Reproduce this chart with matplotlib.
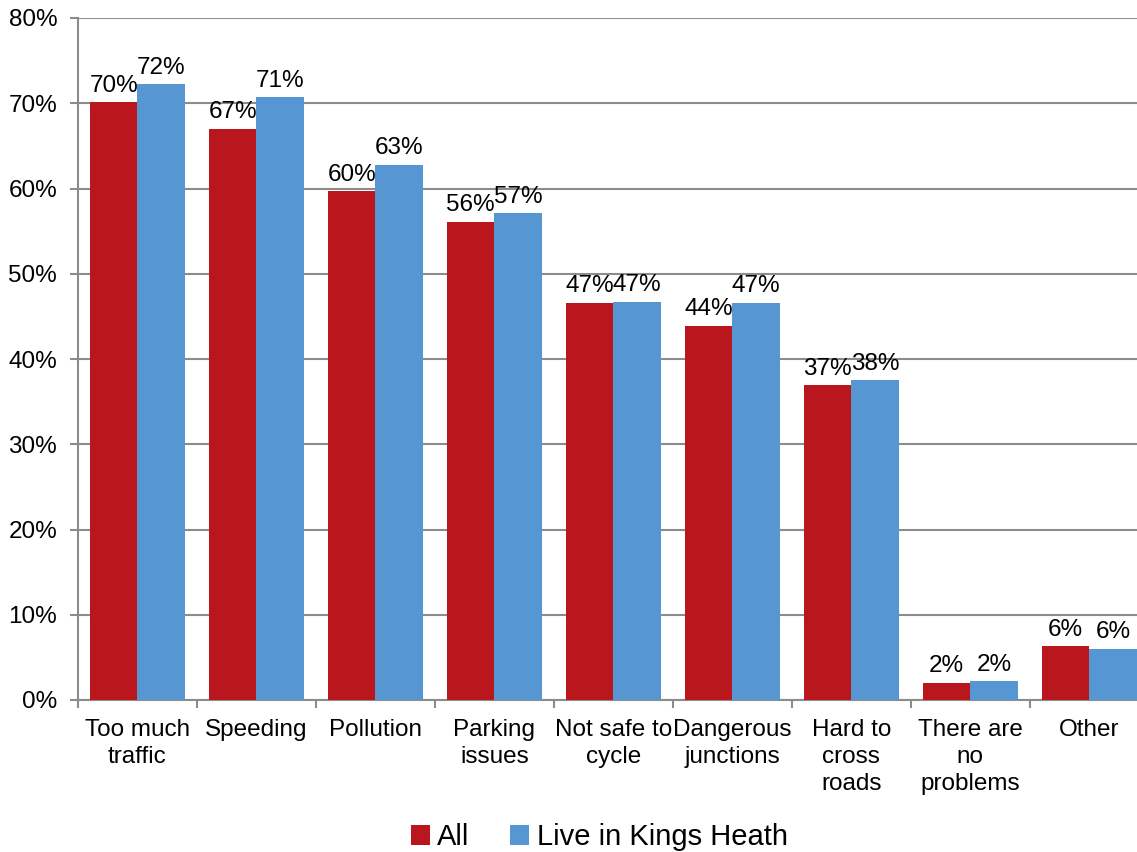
import numpy as np
import matplotlib.pyplot as plt
from matplotlib.ticker import FixedLocator, PercentFormatter

plt.rcParams['font.family'] = ['Liberation Sans', 'DejaVu Sans']

categories = ['Too much\ntraffic', 'Speeding', 'Pollution', 'Parking\nissues',
              'Not safe to\ncycle', 'Dangerous\njunctions', 'Hard to\ncross\nroads',
              'There are\nno\nproblems', 'Other']
all_vals = [70.1, 67.0, 59.7, 56.1, 46.6, 43.9, 36.9, 2.0, 6.3]
kh_vals = [72.2, 70.7, 62.8, 57.1, 46.7, 46.6, 37.5, 2.2, 6.0]
series_names = ['All', 'Live in Kings Heath']

red = '#BA161E'
blue = '#5697D3'
grid_c = '#8C8C8C'
fs = 17.5

fig = plt.figure(figsize=(11.37, 8.52), dpi=100)
ax = fig.add_axes([78 / 1137, 1 - 700 / 852, (1137 - 78) / 1137, (700 - 18) / 852])

x = np.arange(len(categories))
w = 0.4
b1 = ax.bar(x - w / 2, all_vals, w, color=red, label=series_names[0], zorder=3)
b2 = ax.bar(x + w / 2, kh_vals, w, color=blue, label=series_names[1], zorder=3)

for bars, vals in ((b1, all_vals), (b2, kh_vals)):
    for r, v in zip(bars, vals):
        ax.annotate(f'{v:.0f}%', (r.get_x() + r.get_width() / 2, r.get_height()),
                    xytext=(0, 4), textcoords='offset points',
                    ha='center', va='bottom', fontsize=fs)

ax.set_ylim(0, 80)
ax.set_yticks(np.arange(0, 81, 10))
ax.yaxis.set_major_formatter(PercentFormatter(decimals=0))
ax.set_xlim(-0.5, 8.4)
ax.set_xticks(x)
ax.set_xticklabels(categories, fontsize=fs, linespacing=1.27)
ax.xaxis.set_minor_locator(FixedLocator(np.arange(-0.5, 9, 1)))
ax.tick_params(axis='x', which='major', length=0, pad=14)
ax.tick_params(axis='x', which='minor', length=6, color=grid_c, width=1.5)
ax.tick_params(axis='y', labelsize=fs, length=6, color=grid_c, width=1.5, pad=9)

ax.grid(axis='y', color=grid_c, linewidth=1.5, zorder=0)
for s in ['top', 'right']:
    ax.spines[s].set_visible(False)
for s in ['left', 'bottom']:
    ax.spines[s].set_color(grid_c)
    ax.spines[s].set_linewidth(1.5)

fig.legend(loc='lower center', bbox_to_anchor=(0.527, -0.03), ncol=2, frameon=False,
           fontsize=21, handlelength=0.65, handleheight=0.65, handletextpad=0.25,
           columnspacing=1.4)

fig.savefig('out.png', dpi=100)
